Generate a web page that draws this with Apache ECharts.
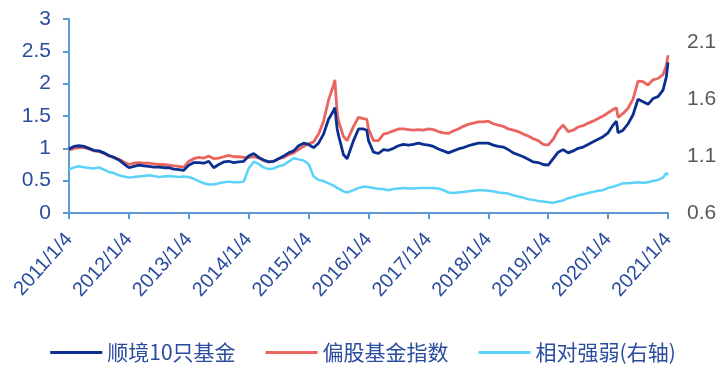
<!DOCTYPE html>
<html>
<head>
<meta charset="utf-8">
<script src="https://cdn.jsdelivr.net/npm/echarts@6/dist/echarts.min.js"></script>
<style>
  html, body { margin: 0; padding: 0; background: #fff; }
  #chart { width: 726px; height: 378px; }
</style>
</head>
<body>
<div id="chart"></div>
<script>
// x tick labels (one per year)
const tickLabels = ['2011/1/4', '2012/1/4', '2013/1/4', '2014/1/4', '2015/1/4', '2016/1/4',
  '2017/1/4', '2018/1/4', '2019/1/4', '2020/1/4', '2021/1/4'];

const dates = [
  '2011/1/4','2011/2/4','2011/3/4','2011/4/4','2011/5/4','2011/6/4','2011/7/4','2011/8/4','2011/9/4','2011/10/4','2011/11/4','2011/12/4',
  '2012/1/4','2012/2/4','2012/3/4','2012/4/4','2012/5/4','2012/6/4','2012/7/4','2012/8/4','2012/9/4','2012/10/4','2012/11/4','2012/12/4',
  '2013/1/4','2013/2/4','2013/3/4','2013/4/4','2013/5/4','2013/6/4','2013/7/4','2013/8/4','2013/9/4','2013/10/4','2013/11/4','2013/12/4',
  '2014/1/4','2014/2/4','2014/3/4','2014/4/4','2014/5/4','2014/6/4','2014/7/4','2014/8/4','2014/9/4','2014/10/4','2014/11/4','2014/12/4',
  '2015/1/4','2015/2/4','2015/3/4','2015/4/4','2015/5/4','2015/6/4','2015/6/12','2015/6/26','2015/7/4','2015/8/4','2015/8/26','2015/9/4','2015/10/4','2015/11/4','2015/12/4','2015/12/24',
  '2016/1/4','2016/2/4','2016/3/4','2016/4/4','2016/5/4','2016/6/4','2016/7/4','2016/8/4','2016/9/4','2016/10/4','2016/11/4','2016/12/4',
  '2017/1/4','2017/2/4','2017/3/4','2017/4/4','2017/5/4','2017/6/4','2017/7/4','2017/8/4','2017/9/4','2017/10/4','2017/11/4','2017/12/4',
  '2018/1/4','2018/2/4','2018/3/4','2018/4/4','2018/5/4','2018/6/4','2018/7/4','2018/8/4','2018/9/4','2018/10/4','2018/11/4','2018/12/4',
  '2019/1/4','2019/2/4','2019/3/4','2019/4/4','2019/5/4','2019/6/4','2019/7/4','2019/8/4','2019/9/4','2019/10/4','2019/11/4','2019/12/4',
  '2020/1/4','2020/2/4','2020/2/24','2020/3/4','2020/4/4','2020/5/4','2020/6/4','2020/7/4','2020/8/4','2020/9/4','2020/10/4','2020/11/4','2020/12/4','2020/12/24',
  '2021/1/4'
];

// 顺境10只基金 (left axis)
const fund10 = [
  0.99,1.03,1.04,1.03,1.00,0.97,0.96,0.93,0.89,0.86,0.82,0.76,
  0.70,0.72,0.74,0.73,0.72,0.71,0.71,0.70,0.70,0.68,0.67,0.66,
  0.74,0.78,0.78,0.77,0.80,0.70,0.75,0.79,0.80,0.78,0.79,0.80,
  0.88,0.92,0.86,0.82,0.79,0.80,0.84,0.88,0.93,0.96,1.04,1.08,
  1.06,1.01,1.08,1.22,1.45,1.58,1.63,1.30,1.20,0.90,0.84,0.87,1.12,1.30,1.30,1.28,
  1.12,0.94,0.92,0.98,0.97,1.00,1.04,1.06,1.05,1.06,1.08,1.06,
  1.05,1.03,0.99,0.96,0.93,0.96,0.99,1.01,1.04,1.06,1.08,1.08,
  1.08,1.05,1.03,1.02,0.98,0.93,0.90,0.87,0.83,0.79,0.78,0.75,
  0.74,0.84,0.94,0.98,0.93,0.96,1.00,1.02,1.06,1.10,1.14,1.18,
  1.24,1.36,1.42,1.24,1.28,1.38,1.52,1.76,1.72,1.68,1.77,1.80,1.90,2.10,
  2.33
];

// 偏股基金指数 (left axis)
const fundIndex = [
  0.97,1.00,1.01,1.01,0.99,0.96,0.95,0.92,0.88,0.86,0.83,0.79,
  0.75,0.77,0.78,0.77,0.77,0.76,0.75,0.75,0.74,0.73,0.72,0.71,
  0.80,0.84,0.86,0.85,0.88,0.84,0.85,0.87,0.89,0.87,0.87,0.86,
  0.86,0.87,0.85,0.81,0.79,0.80,0.84,0.86,0.90,0.93,0.98,1.03,
  1.07,1.10,1.22,1.42,1.75,1.98,2.06,1.55,1.42,1.18,1.12,1.15,1.34,1.48,1.46,1.45,
  1.30,1.12,1.12,1.22,1.24,1.27,1.30,1.30,1.29,1.28,1.29,1.28,
  1.30,1.29,1.26,1.24,1.23,1.27,1.30,1.34,1.37,1.39,1.41,1.41,
  1.42,1.38,1.36,1.34,1.30,1.28,1.26,1.22,1.19,1.15,1.12,1.06,
  1.05,1.14,1.28,1.36,1.26,1.28,1.33,1.35,1.39,1.42,1.46,1.50,
  1.55,1.60,1.63,1.48,1.54,1.62,1.76,2.04,2.03,1.98,2.06,2.08,2.14,2.28,
  2.44
];

// 相对强弱 (right axis)
const relStrength = [
  0.98,1.00,1.01,1.00,0.995,0.99,1.00,0.98,0.96,0.95,0.93,0.92,
  0.91,0.915,0.92,0.925,0.93,0.925,0.915,0.92,0.925,0.92,0.915,0.92,
  0.915,0.90,0.88,0.86,0.85,0.85,0.86,0.87,0.875,0.87,0.87,0.875,
  0.99,1.05,1.03,1.00,0.985,0.99,1.01,1.02,1.05,1.08,1.07,1.06,
  1.03,0.92,0.89,0.88,0.86,0.84,0.83,0.82,0.81,0.79,0.78,0.78,0.80,0.82,0.83,0.83,
  0.83,0.82,0.81,0.81,0.80,0.81,0.815,0.82,0.815,0.815,0.82,0.82,
  0.82,0.82,0.815,0.80,0.78,0.775,0.78,0.785,0.79,0.795,0.80,0.80,
  0.795,0.79,0.78,0.775,0.77,0.755,0.745,0.735,0.72,0.715,0.705,0.70,
  0.695,0.69,0.70,0.71,0.73,0.74,0.755,0.765,0.775,0.785,0.795,0.80,
  0.82,0.83,0.84,0.845,0.86,0.86,0.865,0.87,0.865,0.87,0.88,0.89,0.91,0.95,
  0.93
];

// 'Y/M/D' -> fractional year, so 'YYYY/1/4' lands exactly on the year tick
function toYear(s) {
  const [y, m, d] = s.split('/').map(Number);
  return y + (m - 1) / 12 + (d - 4) / 365;
}
const pairs = arr => dates.map((d, i) => [toYear(d), arr[i]]);

const labelColor = '#2A4C9E';
const axisColor = '#5B9BD5';

const chart = echarts.init(document.getElementById('chart'));
chart.setOption({
  animation: false,
  grid: { left: 69, right: 58, top: 19, bottom: 165 },
  legend: {
    bottom: 10,
    left: 'center',
    itemWidth: 52,
    itemHeight: 3,
    itemGap: 30,
    icon: 'rect',
    textStyle: { color: labelColor, fontSize: 21, fontFamily: 'Noto Sans CJK SC' },
    data: ['顺境10只基金', '偏股基金指数', '相对强弱(右轴)']
  },
  xAxis: {
    type: 'value',
    min: 2011,
    max: 2021,
    interval: 1,
    splitLine: { show: false },
    axisLine: { lineStyle: { color: axisColor, width: 2 } },
    axisTick: { length: 6, lineStyle: { color: axisColor, width: 2 } },
    axisLabel: {
      rotate: 48,
      margin: 23,
      color: labelColor,
      fontSize: 20,
      fontFamily: 'Liberation Sans',
      formatter: v => tickLabels[Math.round(v) - 2011]
    }
  },
  yAxis: [
    {
      type: 'value',
      min: 0,
      max: 3,
      interval: 0.5,
      splitLine: { show: false },
      axisLine: { show: true, lineStyle: { color: axisColor, width: 2 } },
      axisTick: { show: true, length: 6, lineStyle: { color: axisColor, width: 2 } },
      axisLabel: { color: labelColor, fontSize: 21, fontFamily: 'Liberation Sans', margin: 18 }
    },
    {
      type: 'value',
      min: 0.6,
      max: 2.3,
      interval: 0.5,
      position: 'right',
      splitLine: { show: false },
      axisLine: { show: false },
      axisTick: { show: false },
      axisLabel: { color: '#595959', fontSize: 21, fontFamily: 'Liberation Sans', margin: 19, showMaxLabel: false }
    }
  ],
  series: [
    {
      name: '相对强弱(右轴)', type: 'line', yAxisIndex: 1, showSymbol: false,
      data: pairs(relStrength), itemStyle: { color: '#5AD2FA' }, lineStyle: { width: 2.5 }
    },
    {
      name: '偏股基金指数', type: 'line', showSymbol: false,
      data: pairs(fundIndex), itemStyle: { color: '#EA6460' }, lineStyle: { width: 2.8 }
    },
    {
      name: '顺境10只基金', type: 'line', showSymbol: false,
      data: pairs(fund10), itemStyle: { color: '#0A2F8F' }, lineStyle: { width: 2.8 }
    }
  ]
});
</script>
</body>
</html>
